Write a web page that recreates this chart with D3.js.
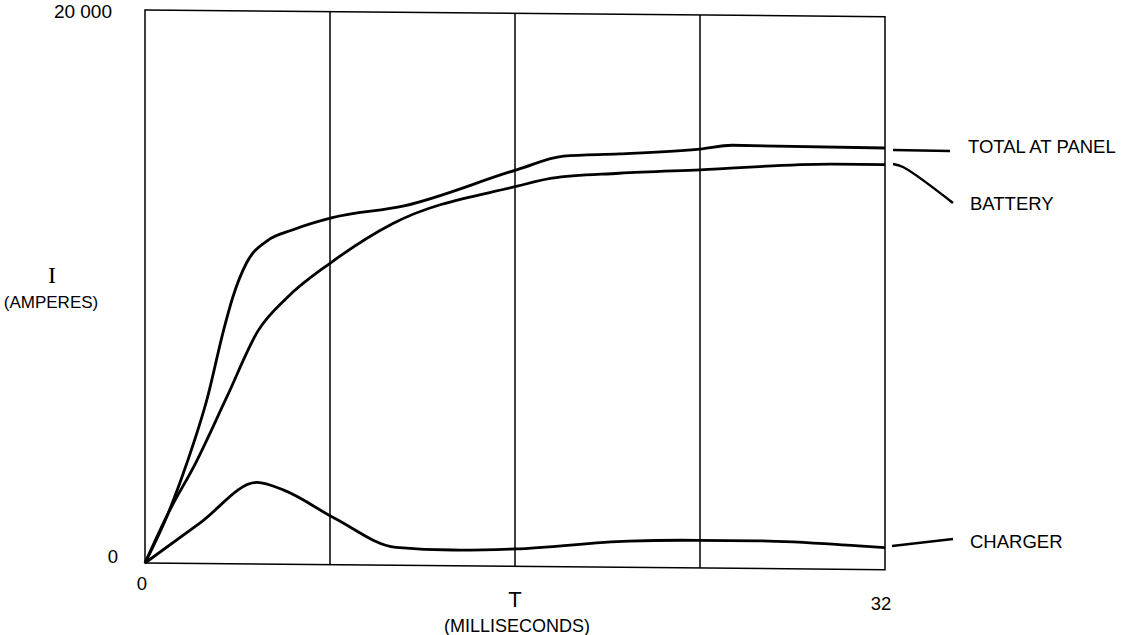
<!DOCTYPE html>
<meta charset="utf-8">
<script src="https://d3js.org/d3.v7.min.js"></script>
<style>
body { margin: 0; background: #fff; }
text {
  font-family: "Liberation Sans", Arial, Helvetica, sans-serif;
  font-size: 18.5px;
  fill: #000;
}
path.curve {
  fill: none;
  stroke: #000;
  stroke-width: 2.8px;
  stroke-linejoin: round;
}
line.grid, rect.frame {
  fill: none;
  stroke: #000;
  stroke-width: 1.5px;
}
path.callout {
  fill: none;
  stroke: #000;
  stroke-width: 2.5px;
}
</style>
<body>
<script>

// time in ms, current in amperes
var totalT   = [0, 1, 1.8, 2.7, 3.4, 3.8, 4.4, 5.3, 6.4, 8.1, 11.2, 16.1, 18.1, 20.5, 24, 25.4, 32];
var totalI   = [0, 1800, 3600, 6000, 8450, 9650, 10900, 11700, 12100, 12550, 13000, 14350, 14850, 14950, 15150, 15300, 15250];

var batteryT = [0, 1, 2.2, 3.55, 4.9, 6.15, 8, 10.7, 16.1, 17.6, 20.5, 24, 29.8, 32];
var batteryI = [0, 1800, 3650, 6050, 8450, 9650, 10900, 12350, 13750, 14050, 14250, 14400, 14650, 14650];

var chargerT = [0, 2.4, 4.85, 6, 8.2, 10.85, 13.3, 16, 20.9, 23.9, 26.5, 30.7, 32];
var chargerI = [0, 1480, 2950, 2680, 1680, 650, 570, 630, 950, 1000, 1000, 860, 800];

var seriesNames = ["TOTAL AT PANEL", "BATTERY", "CHARGER"];
var gridTimes = [8, 16, 24];
var yTickLabels = ["0", "20 000"];
var xTickLabels = ["0", "32"];

var width = 1126,
    height = 635;

var x = d3.scaleLinear().domain([0, 32]).range([145, 885]);
var y = d3.scaleLinear().domain([0, 20000]).range([563, 10]);

var svg = d3.select("body").append("svg")
    .attr("width", width)
    .attr("height", height);

svg.append("rect").attr("width", width).attr("height", height).attr("fill", "#fff");

// the scan is slightly skewed: right side sits a few px lower
var k = 0.009;
var plot = svg.append("g")
    .attr("transform", "matrix(1," + k + ",0,1,0," + (-k * 145) + ")");

plot.append("rect")
    .attr("class", "frame")
    .attr("x", x(0))
    .attr("y", y(20000))
    .attr("width", x(32) - x(0))
    .attr("height", y(0) - y(20000));

plot.selectAll("line.grid")
    .data(gridTimes)
    .enter().append("line")
    .attr("class", "grid")
    .attr("x1", function(d) { return x(d); })
    .attr("x2", function(d) { return x(d); })
    .attr("y1", y(20000))
    .attr("y2", y(0));

var line = d3.line()
    .x(function(d) { return x(d[0]); })
    .y(function(d) { return y(d[1]); })
    .curve(d3.curveMonotoneX);

var series = [
  d3.zip(totalT, totalI),
  d3.zip(batteryT, batteryI),
  d3.zip(chargerT, chargerI)
];

plot.selectAll("path.curve")
    .data(series)
    .enter().append("path")
    .attr("class", "curve")
    .attr("d", line);

// callout leaders to the series names
var callouts = [
  [[893, 150], [950, 151]],
  [[893, 164], [903, 167], [953, 203]],
  [[892, 546], [953, 539]]
];
svg.selectAll("path.callout")
    .data(callouts)
    .enter().append("path")
    .attr("class", "callout")
    .attr("d", d3.line().curve(d3.curveCatmullRom));

var labelPos = [[968, 153], [970, 210], [970, 548]];
svg.selectAll("text.series")
    .data(seriesNames)
    .enter().append("text")
    .attr("class", "series")
    .attr("x", function(d, i) { return labelPos[i][0]; })
    .attr("y", function(d, i) { return labelPos[i][1]; })
    .text(function(d) { return d; });

// y axis labels
svg.append("text").attr("x", 118).attr("y", 563).attr("text-anchor", "end").text(yTickLabels[0]);
svg.append("text").attr("x", 112).attr("y", 18).attr("text-anchor", "end")
    .style("font-size", "19px").text(yTickLabels[1]);

// x axis labels
svg.append("text").attr("x", 142).attr("y", 590).attr("text-anchor", "middle").text(xTickLabels[0]);
svg.append("text").attr("x", 881).attr("y", 610).attr("text-anchor", "middle").text(xTickLabels[1]);

svg.append("text").attr("x", 515).attr("y", 607).attr("text-anchor", "middle")
    .style("font-size", "22px").style("font-weight", "300").text("T");
svg.append("text").attr("x", 517).attr("y", 632).attr("text-anchor", "middle")
    .style("font-size", "18px").text("(MILLISECONDS)");

svg.append("text").attr("x", 52).attr("y", 283).attr("text-anchor", "middle")
    .style("font-family", "'Liberation Serif', 'DejaVu Serif', serif")
    .style("font-size", "24px").text("I");
svg.append("text").attr("x", 51).attr("y", 308).attr("text-anchor", "middle")
    .style("font-size", "17px").text("(AMPERES)");

</script>
</body>
